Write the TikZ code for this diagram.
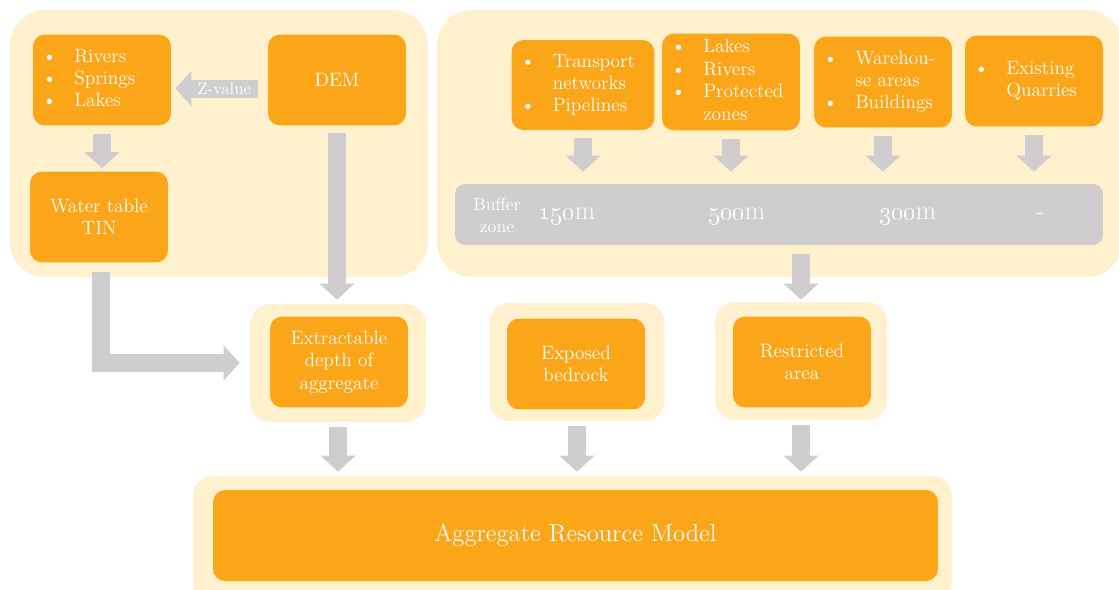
\documentclass[tikz,border=0pt]{standalone}
\usepackage{tikz}
\usetikzlibrary{arrows.meta}

\definecolor{paleyellow}{RGB}{255,241,206}
\definecolor{amber}{RGB}{251,165,25}
\definecolor{lightgrey}{RGB}{207,205,206}

% bulleted lines inside a box
\newcommand{\blist}[1]{\begin{tabular}{@{}l@{\hspace{10pt}}l@{}}#1\end{tabular}}

\tikzset{
  panel/.style={fill=paleyellow, rounded corners=0.7cm},
  halo/.style={fill=paleyellow, rounded corners=0.4cm, minimum width=3.5cm, minimum height=2.36cm, inner sep=0pt},
  box/.style={fill=amber, rounded corners=0.24cm, text=white, align=center,
    font=\fontsize{11}{12.8}\selectfont, minimum width=2.76cm, minimum height=1.82cm, inner sep=2pt},
  bullets/.style={box, align=left, text width=2.4cm, inner xsep=0.18cm},
  bar/.style={fill=lightgrey, rounded corners=0.2cm, minimum width=12.96cm, minimum height=1.22cm},
  bartext/.style={text=white, align=center, inner sep=1pt},
  blk/.style={draw=lightgrey, line width=0.36cm,
    -{Triangle[length=0.32cm, width=0.7cm, line width=0pt]}},
}

\begin{document}
\begin{tikzpicture}[x=0.02cm, y=-0.02cm]
  \useasboundingbox (0,0) rectangle (1119,589);

  % two input panels
  \fill[panel] (10,10) rectangle (428,277);
  \fill[panel] (437,10) rectangle (1122,277);

  % left panel: water table
  \node[bullets] (rivers) at (102,80) {\blist{\textbullet & Rivers\\ \textbullet & Springs\\ \textbullet & Lakes}};
  \node[box] (dem) at (337,80) {DEM};
  \node[box] (water) at (99,217) {Water table\\TIN};

  % right panel: exclusions and buffers
  \node[bullets, text width=2.5cm, minimum height=1.8cm] (transport) at (583,85)
    {\blist{\textbullet & Transport\\ & networks\\ \textbullet & Pipelines}};
  \node[bullets] (lakes) at (731,82)
    {\blist{\textbullet & Lakes\\ \textbullet & Rivers\\ \textbullet & Protected\\ & zones}};
  \node[bullets] (warehouse) at (883,82)
    {\blist{\textbullet & Warehou-\\ & se areas\\ \textbullet & Buildings}};
  \node[bullets] (quarries) at (1034,81)
    {\blist{\textbullet & Existing\\ & Quarries}};

  \node[bar] (buffer) at (779,214.5) {};
  \node[bartext, font=\fontsize{10}{12.5}\selectfont] (bufferlabel) at (497,215) {Buffer\\zone};
  \node[bartext, font=\fontsize{15}{17}\selectfont] (dist1) at (567,216) {\oldstylenums{150}m};
  \node[bartext, font=\fontsize{15}{17}\selectfont] (dist2) at (737,216) {\oldstylenums{500}m};
  \node[bartext, font=\fontsize{15}{17}\selectfont] (dist3) at (908,216) {\oldstylenums{300}m};
  \node[bartext, font=\fontsize{15}{17}\selectfont] (dist4) at (1040,216) {-};

  % intermediate layers
  \node[halo, minimum width=3.52cm] (extracthalo) at (338,363) {};
  \node[box] (extract) at (339,362) {Extractable\\depth of\\aggregate};
  \node[halo] (exposedhalo) at (577,362) {};
  \node[box] (exposed) at (576,364) {Exposed\\bedrock};
  \node[halo, minimum width=3.44cm] (restricthalo) at (801,361) {};
  \node[box] (restrict) at (802,362) {Restricted\\area};

  % final model
  \node[halo, minimum width=15.18cm, minimum height=2.56cm] (modelhalo) at (572.5,540) {};
  \node[box, minimum width=14.5cm, font=\fontsize{14}{16}\selectfont] (model) at (575.5,535.5)
    {Aggregate Resource Model};

  % arrows
  \draw[blk, shorten <=0.2cm, shorten >=0.08cm] ([yshift=-0.17cm]dem.west) -- ([yshift=-0.17cm]rivers.east)
    node[pos=0.45, text=white, font=\fontsize{9.5}{11}\selectfont] (zvalue) {Z-value};
  \draw[blk, shorten <=0.16cm, shorten >=0.06cm] (rivers.south) -- (rivers.south |- water.north);
  \draw[blk, shorten <=0.15cm, shorten >=0.08cm] (dem.south) -- (dem.south |- extracthalo.north);
  \draw[blk, shorten <=0.18cm, shorten >=0.2cm] ([xshift=0.04cm]water.south) |- (extracthalo.west);

  \foreach \src in {transport,lakes,warehouse,quarries}
    \draw[blk, shorten <=0.16cm, shorten >=0.24cm] (\src.south) -- (\src.south |- buffer.north);
  \draw[blk, shorten <=0.18cm, shorten >=0.04cm] (restricthalo.north |- buffer.south) -- (restricthalo.north);

  \foreach \src in {extracthalo,exposedhalo,restricthalo}
    \draw[blk, shorten <=0.1cm, shorten >=0.08cm] (\src.south) -- (\src.south |- modelhalo.north);
\end{tikzpicture}
\end{document}
